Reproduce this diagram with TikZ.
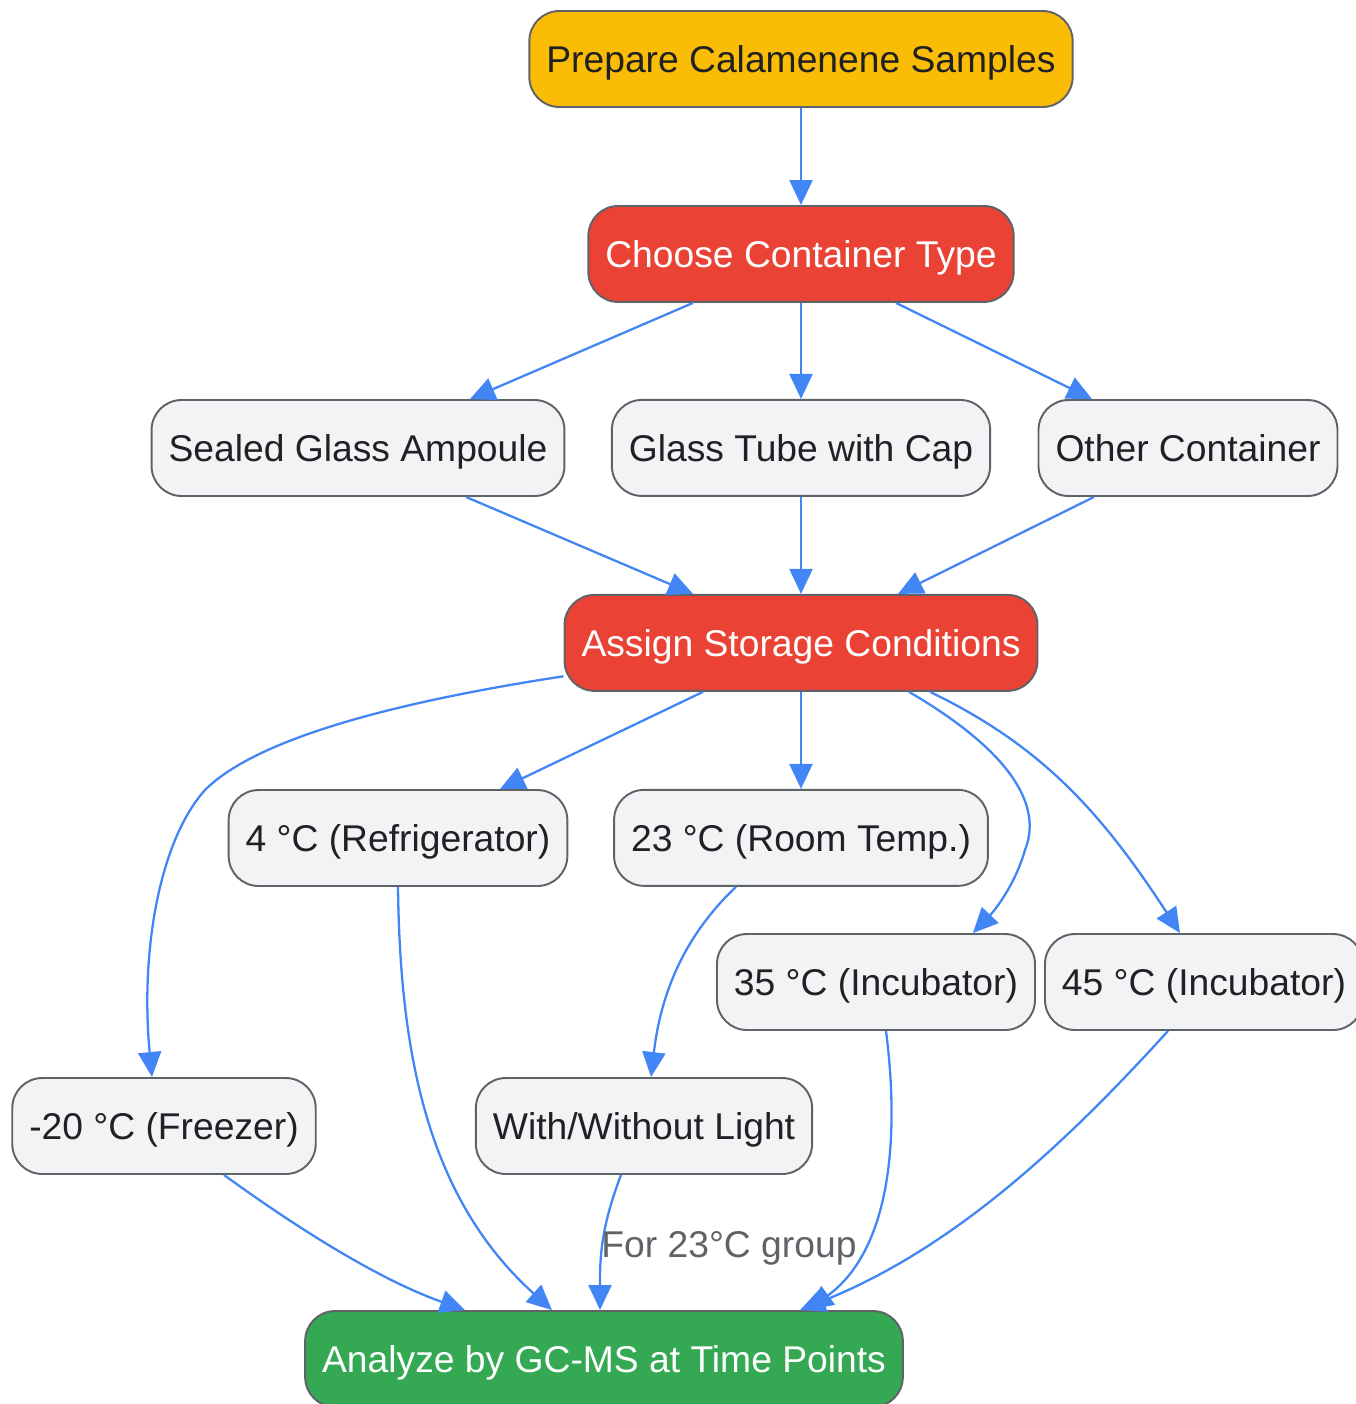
\documentclass[tikz,border=0pt]{standalone}
\usepackage{fontspec}
\setmainfont{Liberation Sans}
\usetikzlibrary{positioning}
\usetikzlibrary{calc}
\usetikzlibrary{arrows.meta}
\definecolor{gyellow}{HTML}{FBBC05}
\definecolor{gred}{HTML}{EA4335}
\definecolor{ggreen}{HTML}{34A853}
\definecolor{gpale}{HTML}{F1F3F4}
\definecolor{gline}{HTML}{5F6368}
\definecolor{gblue}{HTML}{4285F4}
\definecolor{gtext}{HTML}{202124}
\tikzset{every picture/.style={x=0.02cm,y=-0.02cm},
box/.style={draw=gline,line width=1.1pt,rounded corners=0.6cm,minimum height=1.92cm,inner xsep=0.34cm,inner ysep=0pt,text height=15pt,text depth=0pt,fill=gpale,text=gtext,font=\fontsize{21.2}{25}\selectfont},
startbox/.style={box,fill=gyellow},
stepbox/.style={box,fill=gred,text=white},
endbox/.style={box,fill=ggreen,text=white},
flow/.style={draw=gblue,line width=1.3pt,-{Triangle[length=0.5cm,width=0.46cm]}},
edgelabel/.style={text=gline,text height=15pt,text depth=0pt,font=\fontsize{21.2}{25}\selectfont}}
\begin{document}
\begin{tikzpicture}
\useasboundingbox (0,0) rectangle (1356,1404);

\node (prep) at (801,59) [startbox] {Prepare Calamenene Samples};
\node (choose) [below of=prep, node distance=3.9cm, stepbox] {Choose Container Type};
\node (tube) [below of=choose, node distance=3.88cm, box] {Glass Tube with Cap};
\node (ampoule) at (358,448) [box] {Sealed Glass Ampoule};
\node (other) at (1188,448) [box] {Other Container};
\node (assign) [below of=tube, node distance=3.9cm, stepbox] {Assign Storage Conditions};
\node (room) [below of=assign, node distance=3.9cm, box] {23 °C (Room Temp.)};
\node (fridge) at (398,838) [box] {4 °C (Refrigerator)};
\node (inc35) at (876,982) [box] {35 °C (Incubator)};
\node (inc45) at (1204,982) [box] {45 °C (Incubator)};
\node (freezer) at (164,1126) [box] {-20 °C (Freezer)};
\node (light) at (644,1126) [box] {With/Without Light};
\node (gcms) at (604,1359) [endbox] {Analyze by GC-MS at Time Points};

\foreach \a/\b in {prep/choose, choose/tube, tube/assign, assign/room}
\draw[flow] (\a) -- (\b);

\foreach \a/\da/\b/\db in {choose/-108/ampoule/112, choose/95/other/-96, ampoule/108/assign/-108, other/-94/assign/97, assign/-98/fridge/102}
\draw[flow] ($(\a.south)+(\da,0)$) -- ($(\b.north)+(\db,0)$);

\draw[flow] (assign.188) .. controls (330,712) and (240,755) .. (205,790) .. controls (160,840) and (140,950) .. ($(freezer.north)+(-12,0)$);
\draw[flow] ($(assign.south)+(108,0)$) .. controls (1000,745) and (1045,800) .. (1025,850) .. controls (1015,885) and (995,910) .. ($(inc35.north)+(97,0)$);
\draw[flow] ($(assign.south)+(129,0)$) .. controls (1040,745) and (1100,810) .. ($(inc45.north)+(-24,0)$);
\draw[flow] ($(room.south)+(-65,0)$) .. controls (680,940) and (660,1000) .. ($(light.north)+(7,0)$);

\draw[flow] ($(freezer.south)+(60,0)$) .. controls (300,1230) and (380,1280) .. ($(gcms.north)+(-139,0)$);
\draw[flow] (fridge.south) .. controls (400,1060) and (430,1200) .. ($(gcms.north)+(-52,0)$);
\draw[flow] ($(light.south)+(-23,0)$) .. controls (600,1230) and (600,1260) .. ($(gcms.north)+(-4,0)$);
\draw[flow] ($(inc35.south)+(10,0)$) .. controls (900,1140) and (890,1250) .. ($(gcms.north)+(204,0)$);
\draw[flow] ($(inc45.south)+(-36,0)$) .. controls (1060,1150) and (950,1250) .. ($(gcms.north)+(196,0)$);
\node (grouplabel) at (729,1244) [edgelabel] {For 23°C group};

\end{tikzpicture}
\end{document}
